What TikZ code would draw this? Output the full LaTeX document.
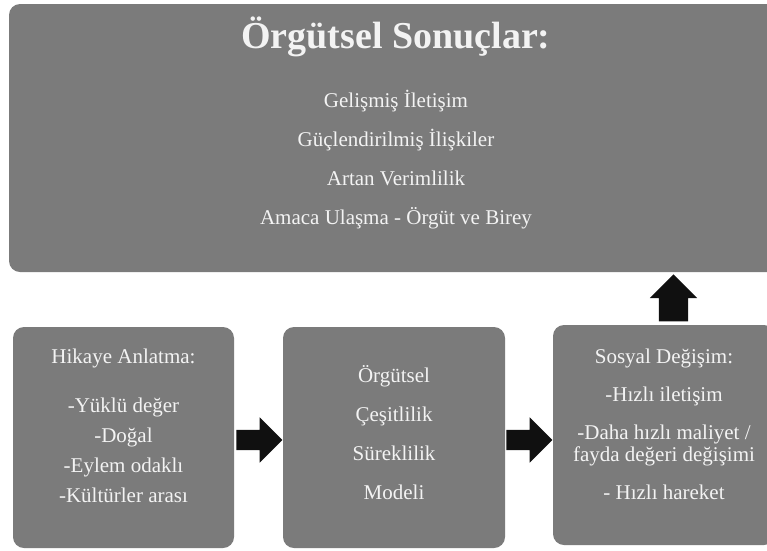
\documentclass[tikz,border=0pt]{standalone}
\usepackage{fontspec}
\setmainfont{Liberation Serif}
\usetikzlibrary{positioning}
\usetikzlibrary{calc}
\usetikzlibrary{shapes.arrows}
\definecolor{boxgray}{RGB}{123,123,123}
\definecolor{txtwhite}{RGB}{243,243,243}
\definecolor{arrowblack}{RGB}{16,16,16}

\begin{document}
\begin{tikzpicture}[x=1pt, y=-1pt,
    block/.style={rectangle, fill=boxgray, rounded corners=11pt, inner sep=0pt},
    txt/.style={text=txtwhite, align=center, inner sep=0pt, anchor=base},
    bigarrow/.style={single arrow, fill=arrowblack, inner xsep=0pt, inner ysep=10pt,
                     single arrow head extend=12.5pt, minimum height=46pt}
]
    \path[use as bounding box] (0,0) rectangle (767,550);
    \clip (0,0) rectangle (767,550);

    % top box
    \node[block, minimum width=774pt, minimum height=268pt] (result) at (396,138) {};
    \node[txt, font=\fontsize{38}{40}\selectfont\bfseries] (title) at ([yshift=-45pt]result.north) {Örgütsel Sonuçlar:};
    \node[txt, font=\fontsize{21}{39}\selectfont] (outcomes) at ([yshift=-221pt]result.north)
        {Gelişmiş İletişim\\Güçlendirilmiş İlişkiler\\Artan Verimlilik\\Amaca Ulaşma - Örgüt ve Birey};

    % bottom row
    \node[block, minimum width=221pt, minimum height=221pt] (story) at (123.5,437.5) {};
    \node[block, minimum width=222pt, minimum height=221pt] (model) at (394,437.5) {};
    \node[block, minimum width=222pt, minimum height=220pt] (social) at (664,435) {};

    \node[txt, font=\fontsize{21}{30}\selectfont] (storytxt) at ([yshift=-176pt]story.north)
        {Hikaye Anlatma:\\[19pt]-Yüklü değer\\-Doğal\\-Eylem odaklı\\-Kültürler arası};
    \node[txt, font=\fontsize{21}{39}\selectfont] (modeltxt) at ([yshift=-173pt]model.north)
        {Örgütsel\\Çeşitlilik\\Süreklilik\\Modeli};
    \node[txt, font=\fontsize{21}{22}\selectfont] (socialtxt) at ([yshift=-175pt]social.north)
        {Sosyal Değişim:\\[16pt]-Hızlı iletişim\\[16pt]-Daha hızlı maliyet /\\fayda değeri değişimi\\[16pt]- Hızlı hareket};

    % block arrows
    \node[bigarrow, right=2pt of story, yshift=-2.5pt] (a1) {};
    \node[bigarrow, right=1pt of model, yshift=-2.5pt] (a2) {};
    \node[bigarrow, rotate=90, inner ysep=14.5pt, minimum height=47pt, single arrow head extend=9pt]
        (a3) at ($(social.north)+(9.5,-19.5)$) {};
\end{tikzpicture}
\end{document}
